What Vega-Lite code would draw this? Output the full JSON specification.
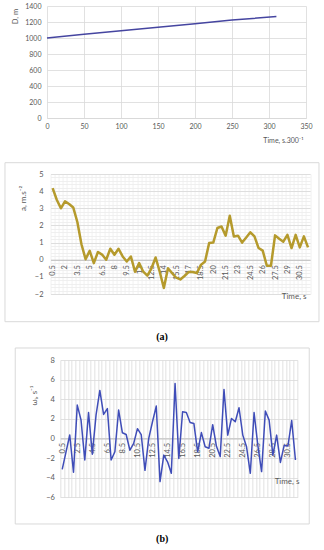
{
  "$schema": "https://vega.github.io/schema/vega-lite/v6.json",
  "padding": {"left": 4, "top": 2, "right": 6, "bottom": 0},
  "config": {
    "view": {"stroke": null},
    "font": "Lato",
    "axis": {"labelColor": "#595959", "titleColor": "#595959", "labelFont": "Lato", "titleFont": "Lato", "titleFontWeight": "normal", "ticks": false, "domain": false, "gridColor": "#D9D9D9", "gridWidth": 0.8, "labelFlush": false, "labelOverlap": false}
  },
  "datasets": {
    "dist": [{"t": 0, "D": 1000}, {"t": 50, "D": 1046}, {"t": 100, "D": 1090}, {"t": 150, "D": 1133}, {"t": 200, "D": 1178}, {"t": 250, "D": 1225}, {"t": 310, "D": 1268}],
    "accel": [
      {"t": 0.5, "a": 4.18}, {"t": 1, "a": 3.5}, {"t": 1.5, "a": 3.0}, {"t": 2, "a": 3.4}, {"t": 2.5, "a": 3.25}, {"t": 3, "a": 3.05}, {"t": 3.5, "a": 2.2}, {"t": 4, "a": 0.9}, {"t": 4.5, "a": 0.03}, {"t": 5, "a": 0.52},
      {"t": 5.5, "a": -0.2}, {"t": 6, "a": 0.45}, {"t": 6.5, "a": 0.3}, {"t": 7, "a": 0.0}, {"t": 7.5, "a": 0.64}, {"t": 8, "a": 0.29}, {"t": 8.5, "a": 0.64}, {"t": 9, "a": 0.19}, {"t": 9.5, "a": -0.1}, {"t": 10, "a": 0.19},
      {"t": 10.5, "a": -0.7}, {"t": 11, "a": -0.2}, {"t": 11.5, "a": -0.7}, {"t": 12, "a": -0.93}, {"t": 12.5, "a": -0.5}, {"t": 13, "a": 0.13}, {"t": 13.5, "a": -0.7}, {"t": 14, "a": -1.65}, {"t": 14.5, "a": -0.5}, {"t": 15, "a": -0.78},
      {"t": 15.5, "a": -1.05}, {"t": 16, "a": -1.15}, {"t": 16.5, "a": -0.95}, {"t": 17, "a": -0.72}, {"t": 17.5, "a": -0.72}, {"t": 18, "a": -0.78}, {"t": 18.5, "a": -0.3}, {"t": 19, "a": -0.1}, {"t": 19.5, "a": 0.97}, {"t": 20, "a": 1.0},
      {"t": 20.5, "a": 1.85}, {"t": 21, "a": 1.94}, {"t": 21.5, "a": 1.4}, {"t": 22, "a": 2.56}, {"t": 22.5, "a": 1.36}, {"t": 23, "a": 1.4}, {"t": 23.5, "a": 1.0}, {"t": 24, "a": 1.3}, {"t": 24.5, "a": 1.6}, {"t": 25, "a": 1.36},
      {"t": 25.5, "a": 0.68}, {"t": 26, "a": 0.53}, {"t": 26.5, "a": -0.35}, {"t": 27, "a": -0.35}, {"t": 27.5, "a": 1.42}, {"t": 28, "a": 1.22}, {"t": 28.5, "a": 1.05}, {"t": 29, "a": 1.45}, {"t": 29.5, "a": 0.68}, {"t": 30, "a": 1.45},
      {"t": 30.5, "a": 0.72}, {"t": 31, "a": 1.36}, {"t": 31.5, "a": 0.72}
    ],
    "omega": [
      {"t": 0.5, "w": -3.15}, {"t": 1, "w": -1.4}, {"t": 1.5, "w": 0.35}, {"t": 2, "w": -3.45}, {"t": 2.5, "w": 3.4}, {"t": 3, "w": 1.9}, {"t": 3.5, "w": -2.2}, {"t": 4, "w": 2.65}, {"t": 4.5, "w": -1.6}, {"t": 5, "w": 2.4},
      {"t": 5.5, "w": 4.9}, {"t": 6, "w": 2.45}, {"t": 6.5, "w": 3.05}, {"t": 7, "w": -2.2}, {"t": 7.5, "w": -1.35}, {"t": 8, "w": 2.9}, {"t": 8.5, "w": 0.58}, {"t": 9, "w": 0.4}, {"t": 9.5, "w": -1.2}, {"t": 10, "w": -0.5},
      {"t": 10.5, "w": 1.0}, {"t": 11, "w": 0.4}, {"t": 11.5, "w": -3.25}, {"t": 12, "w": 0.0}, {"t": 12.5, "w": 1.7}, {"t": 13, "w": 3.3}, {"t": 13.5, "w": -4.4}, {"t": 14, "w": -1.7}, {"t": 14.5, "w": -2.38}, {"t": 15, "w": -3.55},
      {"t": 15.5, "w": 5.6}, {"t": 16, "w": -2.04}, {"t": 16.5, "w": 2.72}, {"t": 17, "w": 2.65}, {"t": 17.5, "w": 1.63}, {"t": 18, "w": 1.53}, {"t": 18.5, "w": -1.36}, {"t": 19, "w": 0.6}, {"t": 19.5, "w": -0.85}, {"t": 20, "w": -1.0},
      {"t": 20.5, "w": 1.4}, {"t": 21, "w": -0.8}, {"t": 21.5, "w": -1.85}, {"t": 22, "w": 5.0}, {"t": 22.5, "w": 0.34}, {"t": 23, "w": 2.04}, {"t": 23.5, "w": 1.7}, {"t": 24, "w": 3.13}, {"t": 24.5, "w": 0.34}, {"t": 25, "w": -0.85},
      {"t": 25.5, "w": -3.55}, {"t": 26, "w": 2.65}, {"t": 26.5, "w": -0.7}, {"t": 27, "w": -3.38}, {"t": 27.5, "w": 2.8}, {"t": 28, "w": 1.87}, {"t": 28.5, "w": -1.7}, {"t": 29, "w": 0.34}, {"t": 29.5, "w": -2.44}, {"t": 30, "w": -0.7},
      {"t": 30.5, "w": -0.77}, {"t": 31, "w": 1.83}, {"t": 31.5, "w": -2.2}
    ]
  },
  "spacing": 19,
  "center": true,
  "vconcat": [
    {
      "width": 259,
      "height": 112,
      "data": {"name": "dist"},
      "layer": [
        {
          "mark": {"type": "line", "color": "#4545A0", "strokeWidth": 1.5},
          "encoding": {
            "x": {"field": "t", "type": "quantitative", "scale": {"domain": [0, 350], "nice": false},
              "axis": {"orient": "bottom", "values": [0, 50, 100, 150, 200, 250, 300, 350], "format": "d", "grid": true, "domain": true, "domainColor": "#D9D9D9", "labelFontSize": 7, "labelPadding": 4,
                "title": "Time, s.300⁻¹", "titleFontSize": 7, "titleX": 256, "titleY": 22, "titleAlign": "right", "titleBaseline": "middle"}},
            "y": {"field": "D", "type": "quantitative", "scale": {"domain": [0, 1400], "nice": false},
              "axis": {"orient": "left", "values": [0, 200, 400, 600, 800, 1000, 1200, 1400], "format": "d", "grid": true, "labelFontSize": 7, "labelPadding": 6,
                "title": "D, m", "titleFontSize": 7.5, "titleX": -31.7, "titleY": 10, "titleAlign": "center", "titleBaseline": "middle", "titleAngle": -90}}
          }
        },
        {
          "mark": {"type": "line", "strokeOpacity": 0},
          "encoding": {
            "x": {"field": "t", "type": "quantitative", "axis": null},
            "y": {"field": "D", "type": "quantitative",
              "axis": {"orient": "right", "grid": false, "labels": false, "title": null, "minExtent": 17, "maxExtent": 17}}
          }
        }
      ],
      "resolve": {"axis": {"x": "independent", "y": "independent"}}
    },
    {
      "spacing": 4,
      "center": true,
      "vconcat": [
        {
          "width": 259.5,
          "height": 120,
          "data": {"name": "accel"},
          "title": {"text": "(a)", "orient": "bottom", "frame": "bounds", "anchor": "middle", "font": "Liberation Serif", "fontSize": 10, "fontWeight": "bold", "color": "#000000", "offset": 10},
          "layer": [
            {
              "mark": {"type": "line", "strokeOpacity": 0},
              "encoding": {
                "x": {"field": "t", "type": "quantitative", "scale": {"domain": [0.25, 31.75], "nice": false, "zero": false},
                  "axis": {"orient": "bottom", "values": [0.25,0.75,1.25,1.75,2.25,2.75,3.25,3.75,4.25,4.75,5.25,5.75,6.25,6.75,7.25,7.75,8.25,8.75,9.25,9.75,10.25,10.75,11.25,11.75,12.25,12.75,13.25,13.75,14.25,14.75,15.25,15.75,16.25,16.75,17.25,17.75,18.25,18.75,19.25,19.75,20.25,20.75,21.25,21.75,22.25,22.75,23.25,23.75,24.25,24.75,25.25,25.75,26.25,26.75,27.25,27.75,28.25,28.75,29.25,29.75,30.25,30.75,31.25,31.75], "grid": true, "gridColor": "#ECECEC", "labels": false, "title": null}},
                "y": {"field": "a", "type": "quantitative", "scale": {"domain": [-2, 5], "nice": false, "zero": false},
                  "axis": {"orient": "left", "values": [-2,-1.8,-1.6,-1.4,-1.2,-1,-0.8,-0.6,-0.4,-0.2,0,0.2,0.4,0.6,0.8,1,1.2,1.4,1.6,1.8,2,2.2,2.4,2.6,2.8,3,3.2,3.4,3.6,3.8,4,4.2,4.4,4.6,4.8,5], "grid": true, "gridColor": "#ECECEC", "labels": false, "title": null}}
              }
            },
            {
              "mark": {"type": "line", "strokeOpacity": 0},
              "encoding": {
                "x": {"field": "t", "type": "quantitative", "axis": null},
                "y": {"field": "a", "type": "quantitative",
                  "axis": {"orient": "left", "values": [-2, -1, 0, 1, 2, 3, 4, 5], "grid": true, "labelFontSize": 7.5, "labelPadding": 7.5,
                    "title": "a, m.s⁻²", "titleFontSize": 8, "titleX": -26.6, "titleY": 24, "titleAlign": "center", "titleBaseline": "middle", "titleAngle": -90}}
              }
            },
            {
              "data": {"values": [{}]},
              "mark": {"type": "rect", "filled": false, "color": "#D9D9D9", "strokeWidth": 1},
              "encoding": {
                "x": {"datum": -5.285, "type": "quantitative", "axis": null},
                "x2": {"datum": 32.83},
                "y": {"datum": 5.659, "type": "quantitative", "axis": null},
                "y2": {"datum": -3.616}
              }
            },
            {
              "mark": {"type": "line", "color": "#B59A2C", "strokeWidth": 2.5, "strokeJoin": "round"},
              "encoding": {
                "x": {"field": "t", "type": "quantitative",
                  "axis": {"orient": "bottom", "offset": -34.29, "values": [0.5, 2, 3.5, 5, 6.5, 8, 9.5, 11, 12.5, 14, 15.5, 17, 18.5, 20, 21.5, 23, 24.5, 26, 27.5, 29, 30.5], "labelExpr": "'' + datum.value",
                    "labelAngle": -90, "labelAlign": "right", "labelBaseline": "middle", "labelFontSize": 7.5, "labelPadding": 5, "grid": false, "domain": true, "domainColor": "#BFBFBF",
                    "title": "Time, s", "titleFontSize": 8, "titleX": 255.4, "titleY": 36.7, "titleAlign": "right", "titleBaseline": "middle"}},
                "y": {"field": "a", "type": "quantitative", "axis": null}
              }
            }
          ],
          "resolve": {"axis": {"x": "independent", "y": "independent"}}
        },
        {
          "width": 237,
          "height": 137.3,
          "data": {"name": "omega"},
          "title": {"text": "(b)", "orient": "bottom", "frame": "bounds", "anchor": "middle", "font": "Liberation Serif", "fontSize": 10, "fontWeight": "bold", "color": "#000000", "offset": 10},
          "layer": [
            {
              "mark": {"type": "line", "strokeOpacity": 0},
              "encoding": {
                "x": {"field": "t", "type": "quantitative", "scale": {"domain": [0.25, 31.75], "nice": false, "zero": false},
                  "axis": {"orient": "bottom", "values": [0.25,0.75,1.25,1.75,2.25,2.75,3.25,3.75,4.25,4.75,5.25,5.75,6.25,6.75,7.25,7.75,8.25,8.75,9.25,9.75,10.25,10.75,11.25,11.75,12.25,12.75,13.25,13.75,14.25,14.75,15.25,15.75,16.25,16.75,17.25,17.75,18.25,18.75,19.25,19.75,20.25,20.75,21.25,21.75,22.25,22.75,23.25,23.75,24.25,24.75,25.25,25.75,26.25,26.75,27.25,27.75,28.25,28.75,29.25,29.75,30.25,30.75,31.25,31.75], "grid": true, "gridColor": "#D9D9D9", "labels": false, "title": null}},
                "y": {"field": "w", "type": "quantitative", "scale": {"domain": [-6, 8], "nice": false, "zero": false},
                  "axis": {"orient": "left", "values": [-6, -4, -2, 0, 2, 4, 6, 8], "grid": true, "labelFontSize": 7.5, "labelPadding": 6,
                    "title": "ωᵢ, s⁻¹", "titleFontSize": 8, "titleX": -26.1, "titleY": 35, "titleAlign": "center", "titleBaseline": "middle", "titleAngle": -90}}
              }
            },
            {
              "data": {"values": [{}]},
              "mark": {"type": "rect", "filled": false, "color": "#D9D9D9", "strokeWidth": 1},
              "encoding": {
                "x": {"datum": -5.744, "type": "quantitative", "axis": null},
                "x2": {"datum": 33.33},
                "y": {"datum": 9.224, "type": "quantitative", "axis": null},
                "y2": {"datum": -8.72}
              }
            },
            {
              "mark": {"type": "line", "color": "#3F4DB8", "strokeWidth": 1.5, "strokeJoin": "round"},
              "encoding": {
                "x": {"field": "t", "type": "quantitative",
                  "axis": {"orient": "bottom", "offset": -58.84, "values": [0.5, 2.5, 4.5, 6.5, 8.5, 10.5, 12.5, 14.5, 16.5, 18.5, 20.5, 22.5, 24.5, 26.5, 28.5, 30.5], "labelExpr": "'' + datum.value",
                    "labelAngle": -90, "labelAlign": "right", "labelBaseline": "middle", "labelFontSize": 7.5, "labelPadding": 4, "grid": false, "domain": true, "domainColor": "#BFBFBF",
                    "title": "Time, s", "titleFontSize": 8, "titleX": 238.6, "titleY": 43, "titleAlign": "right", "titleBaseline": "middle"}},
                "y": {"field": "w", "type": "quantitative", "axis": null}
              }
            }
          ],
          "resolve": {"axis": {"x": "independent", "y": "independent"}}
        }
      ]
    }
  ]
}
